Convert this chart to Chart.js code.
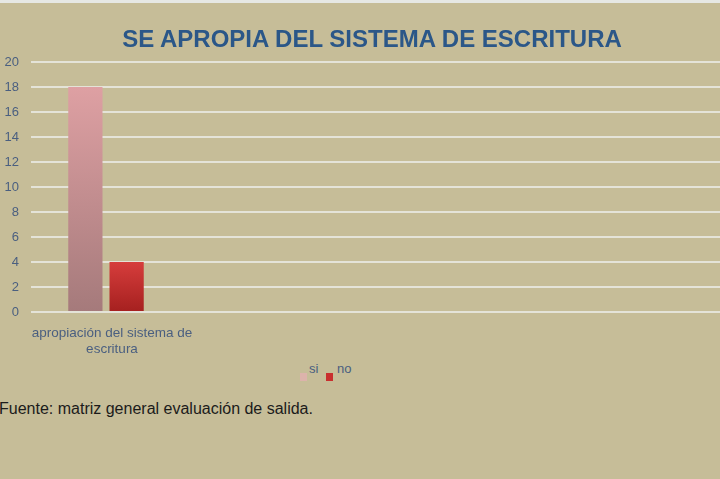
<!DOCTYPE html>
<html>
<head>
<meta charset="utf-8">
<script src="https://cdn.jsdelivr.net/npm/chart.js@4.4.1/dist/chart.umd.min.js"></script>
<style>
  html, body { margin: 0; padding: 0; }
  body { width: 720px; height: 479px; overflow: hidden; background: #c6bd98; position: relative; font-family: "Liberation Sans", Arial, sans-serif; }
  #topline { position: absolute; left: 0; top: 0; width: 720px; height: 3px; background: #e6e8e4; }
  #title { position: absolute; left: 0; top: 25px; width: 744px; text-align: center; font-size: 24px; font-weight: bold; color: #2b5788; }
  #wrap { position: absolute; left: 0; top: 0; width: 720px; height: 360px; overflow: hidden; }
  #legend { position: absolute; top: 361px; left: 0; font-size: 13px; color: #4a5f80; }
  #legend span { position: absolute; white-space: nowrap; }
  .box { width: 7px; height: 8px; }
  #source { position: absolute; left: -1px; top: 400px; font-size: 16px; color: #1b1b1b; white-space: nowrap; }
</style>
</head>
<body>
<div id="topline"></div>
<div id="wrap"><canvas id="chart" width="781" height="360" style="width:781px;height:360px"></canvas></div>
<div id="title">SE APROPIA DEL SISTEMA DE ESCRITURA</div>
<div id="legend"></div>
<div id="source">Fuente: matriz general evaluación de salida.</div>
<script>
// --- data ---
const categories = [['apropiación del sistema de', 'escritura'], '', '', '', ''];
const siValues = [18];
const noValues = [4];
const yTicks = [0, 2, 4, 6, 8, 10, 12, 14, 16, 18, 20];

const axisColor = '#4a5f80';
const gridColor = '#e4e3d8';

// gradient from the bar top down to the baseline
function barGradient(top, bottom) {
  return ctx => {
    const chart = ctx.chart;
    const area = chart.chartArea;
    if (!area) return top;
    const y0 = chart.scales.y.getPixelForValue(ctx.raw);
    const g = chart.ctx.createLinearGradient(0, y0, 0, area.bottom);
    g.addColorStop(0, top);
    g.addColorStop(1, bottom);
    return g;
  };
}

new Chart(document.getElementById('chart'), {
  type: 'bar',
  data: {
    labels: categories,
    datasets: [
      { label: 'si', data: siValues, backgroundColor: barGradient('#dea0a3', '#a57a7b') },
      { label: 'no', data: noValues, backgroundColor: barGradient('#d63d3c', '#a5201f') }
    ]
  },
  options: {
    responsive: false,
    animation: false,
    layout: { padding: { top: 62, left: 0, right: 0, bottom: 0 } },
    datasets: { bar: { categoryPercentage: 0.55, barPercentage: 0.83 } },
    plugins: { legend: { display: false }, title: { display: false }, tooltip: { enabled: false } },
    scales: {
      x: {
        grid: { display: false },
        border: { display: false },
        ticks: { color: axisColor, font: { size: 13.5, family: 'Liberation Sans', lineHeight: 1.2 }, padding: 5, labelOffset: 6, maxRotation: 0, autoSkip: false },
        afterFit: s => { s.height = 48; }
      },
      y: {
        min: 0, max: 20,
        afterBuildTicks: s => { s.ticks = yTicks.map(v => ({ value: v })); },
        grid: { color: gridColor, lineWidth: 2, drawTicks: false },
        border: { display: false },
        ticks: { color: axisColor, font: { size: 13, family: 'Liberation Sans' }, padding: 12 },
        afterFit: s => { s.width = 31; }
      }
    }
  }
});

// --- legend ---
const legend = document.getElementById('legend');
const legendItems = [
  { text: 'si', color: '#dcb3ab', box: 300, label: 309 },
  { text: 'no', color: '#c92f2e', box: 326, label: 337 }
];
legendItems.forEach(it => {
  const b = document.createElement('span');
  b.className = 'box';
  b.style.left = it.box + 'px';
  b.style.top = '12px';
  b.style.background = it.color;
  legend.appendChild(b);
  const t = document.createElement('span');
  t.textContent = it.text;
  t.style.left = it.label + 'px';
  t.style.top = '0px';
  legend.appendChild(t);
});
</script>
</body>
</html>
